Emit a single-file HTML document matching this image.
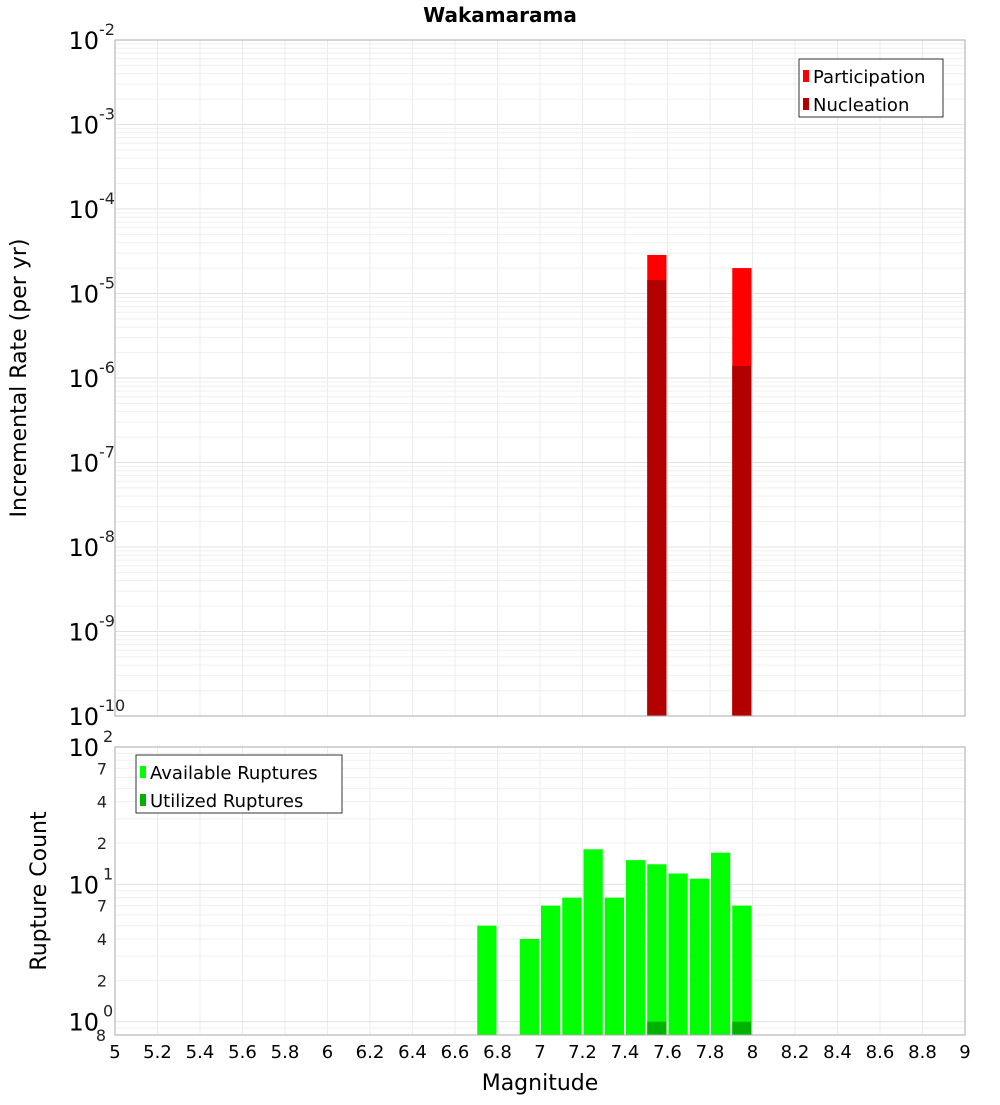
<!DOCTYPE html>
<html><head><meta charset="utf-8"><style>
body{margin:0;background:#fff;}
svg text{font-family:"DejaVu Sans","Liberation Sans",sans-serif;}
</style></head><body>
<svg id="c" width="1000" height="1100" xmlns="http://www.w3.org/2000/svg">
<text x="500" y="22" text-anchor="middle" font-size="20" font-weight="bold">Wakamarama</text>
<g id="topG"></g>
<g id="botG"></g>
<text transform="translate(26,378) rotate(-90)" text-anchor="middle" font-size="22">Incremental Rate (per yr)</text>
<text transform="translate(46,891) rotate(-90)" text-anchor="middle" font-size="22">Rupture Count</text>
<text x="540" y="1090" text-anchor="middle" font-size="22">Magnitude</text>
</svg>
<script>
const rateMags=[7.55,7.95];
const participation=[2.86e-5,2.0e-5];
const nucleation=[1.44e-5,1.39e-6];
const countMags=[6.75,6.95,7.05,7.15,7.25,7.35,7.45,7.55,7.65,7.75,7.85,7.95];
const available=[5,4,7,8,18,8,15,14,12,11,17,7];
const utilizedMags=[7.55,7.95];
const utilized=[1,1];
const xTicks=[5,5.2,5.4,5.6,5.8,6,6.2,6.4,6.6,6.8,7,7.2,7.4,7.6,7.8,8,8.2,8.4,8.6,8.8,9];
const rateExps=[-10,-9,-8,-7,-6,-5,-4,-3,-2];
const countMinor=[2,4,7,20,40,70];

const NS="http://www.w3.org/2000/svg";
const svgEl=document.getElementById('c');
function mk(tag,at,parent){const e=document.createElementNS(NS,tag);for(const k in at)e.setAttribute(k,at[k]);(parent||svgEl).appendChild(e);return e;}
const X0=115,X1=965;
const x=v=>X0+(v-5)/(9-5)*(X1-X0);
const T0=40,T1=716;
const yT=v=>T1-(Math.log10(v)+10)/8*(T1-T0);
const B0=747,B1=1035,bmin=Math.log10(0.8),bmax=2;
const yB=v=>B1-(Math.log10(v)-bmin)/(bmax-bmin)*(B1-B0);
const topG=document.getElementById('topG'),botG=document.getElementById('botG');

for(let e=-10;e<-2;e++)for(let m=1;m<10;m++){const yy=yT(m*Math.pow(10,e));
 const l=mk('line',{x1:X0,x2:X1,y1:yy,y2:yy,stroke:m==1?'#e2e2e2':'#efefef','stroke-width':1},topG);
 
 }
for(const t of xTicks){[[T0,T1,topG],[B0,B1,botG]].forEach(([a,b,g])=>{const l=mk('line',{x1:x(t),x2:x(t),y1:a,y2:b,stroke:'#ececec'},g);
 
 });}
for(let e=-1;e<2;e++)for(let m=1;m<10;m++){const v=m*Math.pow(10,e);if(v<0.8)continue;const yy=yB(v);
 const l=mk('line',{x1:X0,x2:X1,y1:yy,y2:yy,stroke:m==1?'#e2e2e2':'#efefef'},botG);
 
 }

const bw=0.1;
rateMags.forEach((m,i)=>{
 const r=mk('rect',{x:x(m-bw/2)+1,width:x(m+bw/2)-x(m-bw/2)-2,y:yT(participation[i]),height:T1-yT(participation[i]),fill:'#ff0000'},topG);
 
 
 const n=mk('rect',{x:x(m-bw/2)+1,width:x(m+bw/2)-x(m-bw/2)-2,y:yT(nucleation[i]),height:T1-yT(nucleation[i]),fill:'#b20000'},topG);
 
 
});
countMags.forEach((m,i)=>{
 const r=mk('rect',{x:x(m-bw/2)+1,width:x(m+bw/2)-x(m-bw/2)-2,y:yB(available[i]),height:B1-yB(available[i]),fill:'#00ff00'},botG);
 
 
});
utilizedMags.forEach((m,i)=>{
 const r=mk('rect',{x:x(m-bw/2)+1,width:x(m+bw/2)-x(m-bw/2)-2,y:yB(utilized[i]),height:B1-yB(utilized[i]),fill:'#00b200'},botG);
 
 
});
[[T0,T1,topG],[B0,B1,botG]].forEach(([a,b,g])=>{const f=mk('rect',{x:X0,y:a,width:X1-X0,height:b-a,fill:'none',stroke:'#aaa'},g);
 
 });

rateExps.forEach(e=>{const yy=yT(Math.pow(10,e));
 const t=mk('text',{x:99,y:yy+9,'text-anchor':'end','font-size':24},topG);t.textContent='10';
 
 
 const s=mk('text',{x:99,y:yy-5,'font-size':16,fill:'#222'},topG);s.textContent=String(e);
 
 
});
[[1,0],[10,1],[100,2]].forEach(([v,e])=>{const yy=yB(v);
 const t=mk('text',{x:99,y:yy+9,'text-anchor':'end','font-size':24},botG);t.textContent='10';
 
 
 const s=mk('text',{x:103,y:yy-5,'font-size':16,fill:'#222'},botG);s.textContent=String(e);
 
 
});
countMinor.concat([0.8]).forEach(v=>{const yy=yB(v);
 const t=mk('text',{x:v==0.8?106:107,y:yy+6,'text-anchor':'end','font-size':16,fill:'#222'},botG);t.textContent=v==0.8?'8':String(v<10?v:v/10);
 
 
});
xTicks.forEach(t=>{const e=mk('text',{x:x(t),y:1058,'text-anchor':'middle','font-size':18},botG);e.textContent=String(t);
 
 });

function legend(g,x0,y0,w,items,name){
 const grp=mk('g',{},g);
 
 
 mk('rect',{x:x0,y:y0,width:w,height:58,fill:'#fff',stroke:'#333'},grp);
 items.forEach(([lab,col],i)=>{
  const yy=y0+17+i*28;
  const r=mk('rect',{x:x0+4,y:yy-6,width:6,height:12,fill:col},grp);
  
  
  const t=mk('text',{x:x0+14,y:yy+7,'font-size':18},grp);t.textContent=lab;
  
  
 });
}
legend(topG,799,59,144,[['Participation','#ff0000'],['Nucleation','#b20000']],'rate-legend');
legend(botG,136,755,206,[['Available Ruptures','#00ff00'],['Utilized Ruptures','#00b200']],'count-legend');
</script>
</body></html>
